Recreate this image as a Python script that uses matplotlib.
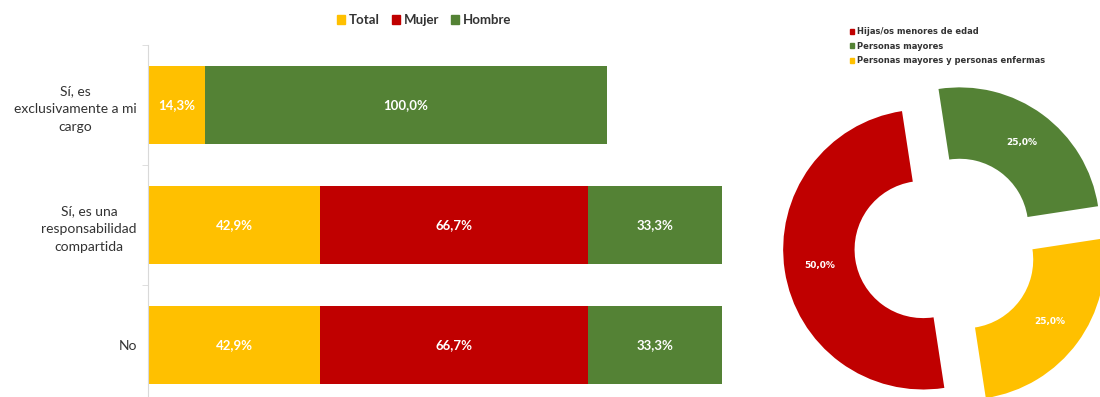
import matplotlib

matplotlib.use("Agg")

import matplotlib.pyplot as plt
from matplotlib.patches import Patch

# bar chart data
categories = ["Sí, es\nexclusivamente a mi\ncargo", "Sí, es una\nresponsabilidad\ncompartida", "No"]
series_names = ["Total", "Mujer", "Hombre"]
total = [14.3, 42.9, 42.9]
mujer = [0.0, 66.7, 66.7]
hombre = [100.0, 33.3, 33.3]

# donut data
donut_labels = ["Hijas/os menores de edad", "Personas mayores", "Personas mayores y personas enfermas"]
donut_values = [50.0, 25.0, 25.0]

YELLOW = "#FFC000"
RED = "#C00000"
GREEN = "#548235"
TEXT = "#333333"

W, H = 1100, 397


def fmt(v):
    return f"{v:.1f}".replace(".", ",") + "%"


fig = plt.figure(figsize=(W / 100, H / 100), dpi=100)

# ---- stacked bars ----
ax = fig.add_axes([148 / W, (H - 405) / H, 602 / W, 360 / H])
colors = [YELLOW, RED, GREEN]
left = [0.0] * len(categories)
for name, vals, col in zip(series_names, [total, mujer, hombre], colors):
    bars = ax.barh(range(len(categories)), vals, left=left, height=0.65, color=col, label=name)
    for b, v, l in zip(bars, vals, left):
        if v > 0:
            ax.text(l + v / 2, b.get_y() + b.get_height() / 2, fmt(v), ha="center", va="center",
                    color="white", fontsize=9.5, fontweight="bold", family="Lato")
    left = [a + b for a, b in zip(left, vals)]

ax.set_xlim(0, 150)
ax.set_ylim(2.5, -0.5)
ax.set_xticks([])
ax.set_yticks(range(len(categories)))
ax.set_yticklabels(categories, fontsize=10, color=TEXT, family="Lato", linespacing=1.6)
for lab in ax.get_yticklabels():
    lab.set_multialignment("center")
ax.set_yticks([-0.5, 0.5, 1.5, 2.5], minor=True)
ax.tick_params(axis="y", which="major", length=0, pad=8)
ax.tick_params(axis="y", which="minor", length=4, color="#d9d9d9")
for side in ["top", "right", "bottom"]:
    ax.spines[side].set_visible(False)
ax.spines["left"].set_color("#d9d9d9")

handles = [Patch(color=c, label=n) for c, n in zip(colors, series_names)]
leg = fig.legend(handles=handles, loc="center", bbox_to_anchor=(424 / W, 1 - 20 / H), ncol=3,
                 frameon=False, handlelength=0.6, handleheight=0.6, handletextpad=0.3,
                 columnspacing=0.9, prop={"family": "Lato", "weight": "bold", "size": 9.5})
for t in leg.get_texts():
    t.set_color(TEXT)

# ---- donut ----
R = 140.0
cx, cy = 946.0, 246.0
l_px, r_px, t_px, b_px = 770, 1100, 70, 397
ax2 = fig.add_axes([l_px / W, (H - b_px) / H, (r_px - l_px) / W, (b_px - t_px) / H])
wedges, texts = ax2.pie(donut_values, colors=[RED, GREEN, YELLOW], startangle=-81.3, counterclock=False,
                        explode=[0.165] * 3, radius=1.0, wedgeprops={"width": 0.51, "linewidth": 0},
                        labels=[fmt(v) for v in donut_values], labeldistance=0.9)
for t in texts:
    t.set_color("white")
    t.set_fontsize(6.5)
    t.set_fontweight("bold")
    t.set_ha("center")
    t.set_va("center")
# pull labels onto the middle of the ring
for w, t in zip(wedges, texts):
    x, y = t.get_position()
    t.set_position((x * 0.86, y * 0.86))
ax2.set_xlim((l_px - cx) / R, (r_px - cx) / R)
ax2.set_ylim((cy - b_px) / R, (cy - t_px) / R)
ax2.axis("off")

dh = [Patch(color=c, label=n) for c, n in zip([RED, GREEN, YELLOW], donut_labels)]
leg2 = fig.legend(handles=dh, loc="upper left", bbox_to_anchor=(842 / W, 1 - 20 / H), frameon=False,
                  handlelength=0.55, handleheight=0.55, handletextpad=0.35, labelspacing=0.65,
                  prop={"family": "DejaVu Sans", "weight": "bold", "size": 6})
for t in leg2.get_texts():
    t.set_color(TEXT)

fig.savefig("out.png", dpi=100)
